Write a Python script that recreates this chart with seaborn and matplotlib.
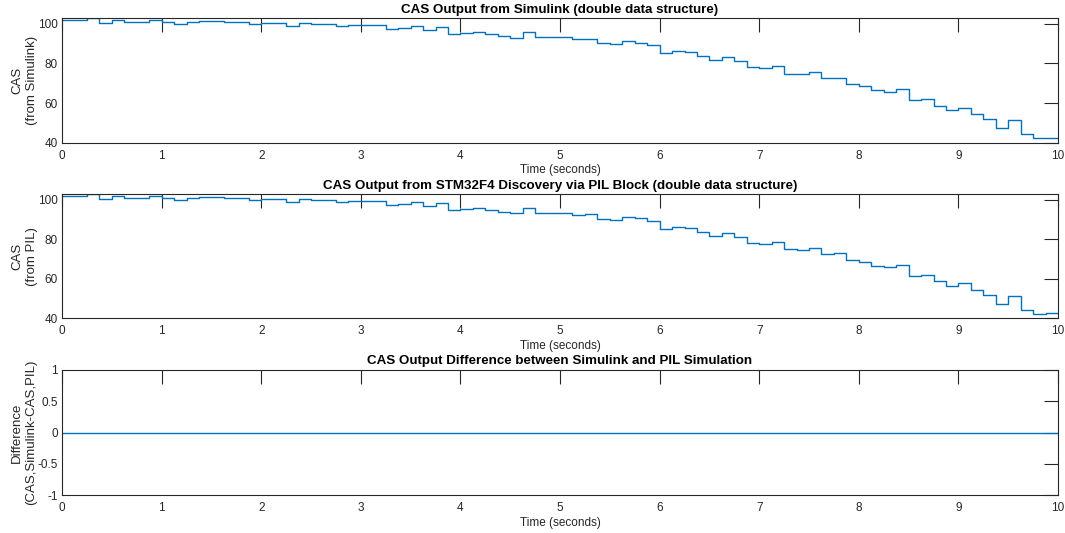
import numpy as np
import pandas as pd
import matplotlib
matplotlib.use("Agg")
import matplotlib.pyplot as plt
import seaborn as sns

# ---- data ----
step_time = 0.125  # sample time (s)
cas_simulink = [
    102.0, 102.0, 102.7, 100.3, 101.8, 101.0, 101.0, 102.0, 100.7, 99.8,
    101.0, 101.3, 101.3, 100.8, 100.8, 100.0, 100.2, 100.2, 99.0, 100.3,
    100.0, 100.0, 98.7, 99.3, 99.3, 99.2, 97.3, 98.0, 98.7, 96.7,
    98.3, 95.0, 95.3, 95.7, 94.8, 94.0, 93.0, 95.8, 93.2, 93.3,
    93.3, 92.2, 92.5, 90.3, 89.8, 91.2, 90.5, 89.3, 85.3, 86.3,
    85.7, 83.8, 81.7, 83.3, 81.2, 78.3, 77.5, 78.7, 74.8, 74.7,
    75.5, 72.5, 72.8, 69.5, 68.7, 66.5, 65.7, 67.0, 61.3, 61.8,
    58.7, 56.5, 57.7, 54.3, 51.8, 47.3, 51.3, 44.3, 42.3, 42.5,
]
cas_pil = list(cas_simulink)  # identical in the reference

titles = [
    "CAS Output from Simulink (double data structure)",
    "CAS Output from STM32F4 Discovery via PIL Block (double data structure)",
    "CAS Output Difference between Simulink and PIL Simulation",
]
ylabels = [
    "CAS\n(from Simulink)",
    "CAS\n(from PIL)",
    "Difference\n(CAS,Simulink-CAS,PIL)",
]
xlabel = "Time (seconds)"
xticks = [0, 1, 2, 3, 4, 5, 6, 7, 8, 9, 10]
cas_yticks = [40, 60, 80, 100]
diff_yticks = [-1, -0.5, 0, 0.5, 1]
diff_yticklabels = ["-1", "-0.5", "0", "0.5", "1"]

# ---- build frames ----
n = len(cas_simulink)
t = np.arange(n + 1) * step_time
sim_vals = cas_simulink + [cas_simulink[-1]]
pil_vals = cas_pil + [cas_pil[-1]]
diff_vals = [a - b for a, b in zip(sim_vals, pil_vals)]
df = pd.DataFrame({"t": t, "sim": sim_vals, "pil": pil_vals, "diff": diff_vals})

sns.set_style("white")
plt.rcParams["font.family"] = ["Liberation Sans", "DejaVu Sans"]
plt.rcParams["axes.linewidth"] = 0.8

line_color = "#0072BD"
text_gray = "#262626"

fig = plt.figure(figsize=(10.65, 5.33), dpi=100)
W, H = 1065, 533
boxes = [(18.3, 142.7), (194.3, 318.3), (370.0, 495.0)]
cols = ["sim", "pil", "diff"]

for i, (top, bot) in enumerate(boxes):
    ax = fig.add_axes([62 / W, (H - bot) / H, 996 / W, (bot - top) / H])
    sns.lineplot(data=df, x="t", y=cols[i], ax=ax, color=line_color,
                 linewidth=1.0, drawstyle="steps-post", estimator=None)
    ax.set_xlim(0, 10)
    if i < 2:
        ax.set_ylim(40, 102.7)
        ax.set_yticks(cas_yticks)
    else:
        ax.set_ylim(-1, 1)
        ax.set_yticks(diff_yticks)
        ax.set_yticklabels(diff_yticklabels)
    ax.set_xticks(xticks)
    ax.tick_params(direction="in", length=10, width=0.8, top=True, right=True,
                   labelsize=8.5, colors=text_gray)
    ax.tick_params(axis="x", pad=5)
    ax.tick_params(axis="y", pad=3)
    for s in ax.spines.values():
        s.set_color(text_gray)
        s.set_visible(True)
    ax.set_xlabel(xlabel, fontsize=8.5, color=text_gray, labelpad=2)
    ax.set_ylabel(ylabels[i], fontsize=9.5, color=text_gray, labelpad=0,
                  linespacing=1.25)
    ax.set_title(titles[i], fontsize=9.6, fontweight="bold", color="black", pad=4)

fig.savefig("out.png", dpi=100)
